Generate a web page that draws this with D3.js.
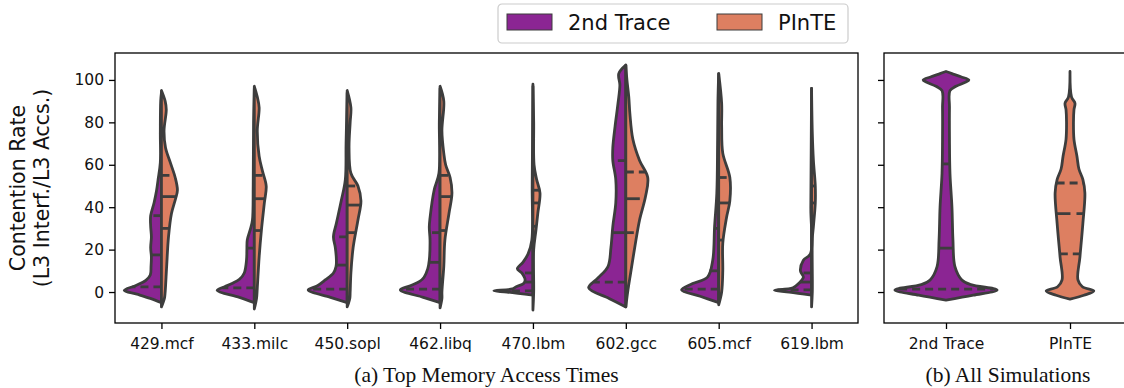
<!DOCTYPE html>
<html>
<head>
<meta charset="utf-8">
<script src="https://cdn.jsdelivr.net/npm/d3@7"></script>
<style>
  body { margin: 0; background: #fff; }
  svg text { font-family: "DejaVu Sans", sans-serif; fill: #111; }
  .caption { font-family: "Liberation Serif", "Times New Roman", serif; }
</style>
</head>
<body>
<svg id="chart" width="1124" height="388"></svg>
<script>
// benchmarks (left panel) and summary groups (right panel)
const categories = ["429.mcf", "433.milc", "450.sopl", "462.libq", "470.lbm", "602.gcc", "605.mcf", "619.lbm"];
const groups = ["2nd Trace", "PInTE"];
const seriesNames = ["2nd Trace", "PInTE"];
const yTicks = [0, 20, 40, 60, 80, 100];

// violin outlines: [value, relative half-width]
const traceProfiles = [
  [[-5,0],[-3,0.3],[-1,0.66],[0.8,1.0],[3,0.7],[5.5,0.42],[8,0.3],[12,0.28],[16.5,0.27],[21,0.29],[26,0.27],[31,0.29],[36,0.29],[42,0.2],[48,0.13],[53,0.09],[61,0.03],[75,0.03],[90,0.02],[94,0]],
  [[-5,0],[-2.5,0.4],[0.8,1.0],[2.5,0.8],[4,0.6],[6,0.4],[9,0.27],[15,0.21],[20,0.2],[24.5,0.19],[30,0.1],[34,0.05],[50,0.03],[80,0.02],[96,0]],
  [[-5,0],[-2.5,0.45],[1,1.05],[3,0.8],[5.7,0.59],[9,0.37],[12,0.3],[15,0.29],[21,0.32],[26,0.37],[32.5,0.29],[43,0.16],[53,0.05],[70,0.03],[94,0]],
  [[-5,0],[-2.5,0.45],[1,1.07],[3,0.8],[5,0.55],[7,0.43],[11,0.33],[15,0.29],[24.5,0.27],[30.7,0.29],[35,0.27],[48,0.16],[56,0.03],[80,0.02],[96,0]],
  [[-1.5,0],[0,0.7],[0.6,1.05],[1.5,0.55],[2.5,0.45],[4,0.25],[5.7,0.21],[9,0.3],[11,0.42],[14,0.27],[18,0.13],[24.5,0.03],[50,0.02],[97,0]],
  [[-7,0],[-3,0.45],[2,1.0],[6.6,0.75],[12,0.48],[21,0.4],[31,0.35],[42,0.27],[53,0.27],[62,0.35],[68,0.35],[78,0.29],[89,0.21],[97.6,0.16],[103,0.19],[107,0]],
  [[-5,0],[-2,0.5],[1,1.0],[4,0.7],[7,0.3],[15,0.16],[31,0.11],[46.7,0.05],[70,0.03],[90,0.02],[103,0]],
  [[-1.5,0],[0,0.6],[0.8,1.0],[2,0.5],[4,0.35],[7,0.22],[10,0.3],[15,0.22],[18,0.03],[40,0.02],[96,0]]
];
const pinteProfiles = [
  [[-7,0],[-3,0.08],[0,0.1],[12,0.14],[26,0.19],[37,0.27],[44,0.38],[48,0.43],[54,0.37],[61,0.24],[68,0.11],[76,0.07],[86,0.13],[90,0.1],[95,0]],
  [[-8,0],[-3,0.06],[2,0.08],[16.5,0.13],[29,0.19],[42,0.27],[50,0.32],[57,0.22],[64,0.13],[76,0.08],[87,0.13],[92,0.08],[97,0]],
  [[-7,0],[-3,0.07],[0,0.08],[9,0.1],[21,0.16],[34,0.29],[43,0.37],[50,0.29],[56,0.1],[68,0.05],[80,0.08],[87,0.1],[95,0]],
  [[-7.5,0],[-3,0.05],[0,0.05],[12,0.1],[24.5,0.13],[37,0.24],[46.7,0.32],[54,0.27],[60,0.15],[65.5,0.1],[76,0.05],[90,0.1],[97,0]],
  [[-8.5,0],[0,0.02],[20,0.02],[29,0.08],[37,0.13],[46.7,0.19],[53,0.1],[60,0.03],[80,0.02],[98,0]],
  [[-7,0],[0,0.05],[9,0.13],[21,0.24],[34,0.37],[45,0.53],[54,0.59],[62,0.37],[72,0.19],[84,0.11],[92,0.08],[100,0.03],[107,0]],
  [[-6,0],[0,0.08],[10,0.11],[23,0.11],[35,0.21],[43,0.3],[54,0.3],[65.5,0.11],[78,0.08],[89,0.08],[103,0]],
  [[-7,0],[0,0.02],[25,0.02],[31,0.05],[42,0.1],[50,0.1],[62,0.05],[75,0.02],[96,0]]
];
// [q1, median, q3]
const traceQuartiles = [[2.4,17.5,36],[2,20.7,33],[1.4,12.7,26],[1.4,14,28],[0.5,4.7,9],[4.7,28,62],[1.4,10,30],[1,4.7,9]];
const pinteQuartiles = [[30,45,55],[29,44,55],[28,41,50],[29,45,55],[31,42,48],[28,44,56.6],[24.5,42,54],[31,42,50]];

// all simulations (full violins)
const allTraceProfile = [[-3.8,0],[-1.5,0.55],[1,1.03],[3.5,0.5],[5.7,0.32],[12,0.18],[24.5,0.14],[40,0.12],[56,0.08],[72,0.07],[87,0.07],[95,0.08],[97,0.2],[99,0.4],[100,0.46],[101.5,0.3],[103,0.12],[104,0]];
const allPinteProfile = [[-3.3,0],[-1.5,0.28],[0.5,0.48],[2.5,0.25],[5.7,0.16],[16.5,0.2],[32.5,0.26],[46.7,0.3],[53,0.26],[58,0.18],[64,0.14],[72,0.08],[80,0.07],[86,0.08],[89,0.1],[92,0.03],[104,0]];
const allQuartiles = [[1.4,20.7,60.4],[18,37,51.4]];

const colors = ["#8b2593", "#dd7f61"];
const edge = "#3d3d3d";

const svg = d3.select("#chart");
const plotTop = 53, plotBottom = 323;
const y = d3.scaleLinear().domain([-14.6, 112.7]).range([plotBottom, plotTop]);

const xA = d3.scalePoint().domain(categories).range([115, 858]).padding(0.5);
const xB = d3.scalePoint().domain(groups).range([884, 1132]).padding(0.5);

function frame(x0, x1) {
  svg.append("rect")
    .attr("x", x0).attr("y", plotTop)
    .attr("width", x1 - x0).attr("height", plotBottom - plotTop)
    .attr("fill", "none").attr("stroke", "#000").attr("stroke-width", 1.3);
}

function halfWidthAt(profile, v) {
  const f = d3.scaleLinear().domain(profile.map(d => d[0])).range(profile.map(d => d[1])).clamp(true);
  return f(v);
}

// side: -1 left half, +1 right half, 0 full
function violin(g, cx, profile, quart, color, w, side) {
  const area = d3.area()
    .curve(d3.curveCatmullRom)
    .y(d => y(d[0]))
    .x0(d => side === 0 ? cx - w(d[1]) : cx)
    .x1(d => side === 0 ? cx + w(d[1]) : cx + side * w(d[1]));
  g.append("path")
    .attr("d", area(profile))
    .attr("fill", color)
    .attr("stroke", edge)
    .attr("stroke-width", 2.8)
    .attr("stroke-linejoin", "round");

  quart.forEach((q, i) => {
    const hw = w(halfWidthAt(profile, q));
    // dashes run outward from the centre line
    const xa = side === 0 ? cx - hw : cx;
    const xb = side === 0 ? cx + hw : cx + side * hw;
    g.append("line")
      .attr("x1", xa).attr("x2", xb)
      .attr("y1", y(q)).attr("y2", y(q))
      .attr("stroke", edge)
      .attr("stroke-width", 2.8)
      .attr("stroke-dasharray", i === 1 ? "14,6" : "8,5");
  });
}

// left panel
const wA = d3.scaleLinear().domain([0, 1]).range([0, xA.step() * 0.4]);
const gA = svg.append("g");
categories.forEach((c, i) => {
  violin(gA, xA(c), traceProfiles[i], traceQuartiles[i], colors[0], wA, -1);
  violin(gA, xA(c), pinteProfiles[i], pinteQuartiles[i], colors[1], wA, 1);
});

// right panel
const wB = d3.scaleLinear().domain([0, 1]).range([0, xB.step() * 0.4]);
const gB = svg.append("g");
violin(gB, xB(groups[0]), allTraceProfile, allQuartiles[0], colors[0], wB, 0);
violin(gB, xB(groups[1]), allPinteProfile, allQuartiles[1], colors[1], wB, 0);

frame(115, 858);
frame(884, 1132);

// axes
const yAxisA = svg.append("g").attr("transform", "translate(115,0)")
  .call(d3.axisLeft(y).tickValues(yTicks).tickSize(6).tickPadding(5));
const yAxisB = svg.append("g").attr("transform", "translate(884,0)")
  .call(d3.axisLeft(y).tickValues(yTicks).tickSize(6).tickFormat(""));
const xAxisA = svg.append("g").attr("transform", `translate(0,${plotBottom})`)
  .call(d3.axisBottom(xA).tickSize(6).tickPadding(9));
const xAxisB = svg.append("g").attr("transform", `translate(0,${plotBottom})`)
  .call(d3.axisBottom(xB).tickSize(6).tickPadding(9));
[yAxisA, yAxisB, xAxisA, xAxisB].forEach(a => {
  a.select(".domain").remove();
  a.selectAll(".tick line").attr("stroke", "#000").attr("stroke-width", 1.3);
  a.selectAll(".tick text").attr("font-size", 15.5).attr("font-family", "DejaVu Sans").attr("fill", "#111");
});

// y label
const yl = svg.append("text")
  .attr("transform", `translate(25,${(plotTop + plotBottom) / 2}) rotate(-90)`)
  .attr("text-anchor", "middle")
  .attr("font-size", 20.5);
yl.append("tspan").attr("x", 0).attr("dy", 0).text("Contention Rate");
yl.append("tspan").attr("x", 0).attr("dy", 24).text("(L3 Interf./L3 Accs.)");

// captions
svg.append("text").attr("class", "caption")
  .attr("x", (115 + 858) / 2).attr("y", 382)
  .attr("text-anchor", "middle").attr("font-size", 21.5)
  .text("(a) Top Memory Access Times");
svg.append("text").attr("class", "caption")
  .attr("x", (884 + 1132) / 2).attr("y", 382)
  .attr("text-anchor", "middle").attr("font-size", 21.5)
  .text("(b) All Simulations");

// legend
const lg = svg.append("g");
lg.append("rect")
  .attr("x", 498).attr("y", 4).attr("width", 350).attr("height", 39).attr("rx", 4)
  .attr("fill", "#fff").attr("stroke", "#cccccc").attr("stroke-width", 1.2);
const legendX = [507, 717];
seriesNames.forEach((s, i) => {
  lg.append("rect")
    .attr("x", legendX[i]).attr("y", 14).attr("width", 45).attr("height", 16)
    .attr("fill", colors[i]).attr("stroke", edge).attr("stroke-width", 1);
  lg.append("text")
    .attr("x", legendX[i] + 61).attr("y", 30)
    .attr("font-size", 21)
    .text(s);
});
</script>
</body>
</html>
